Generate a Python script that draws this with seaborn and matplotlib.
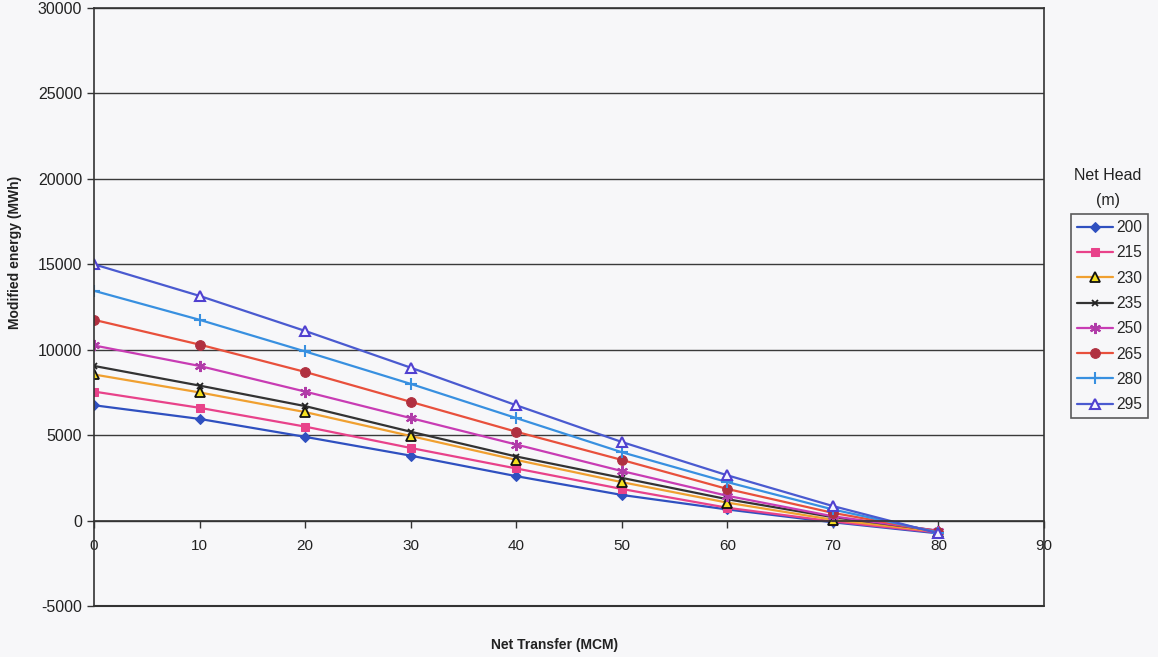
import matplotlib
matplotlib.use("Agg")
import matplotlib.pyplot as plt
import seaborn as sns
import pandas as pd

net_transfer = [0, 10, 20, 30, 40, 50, 60, 70, 80]
net_heads = ["200", "215", "230", "235", "250", "265", "280", "295"]
e200 = [6750, 5950, 4900, 3800, 2600, 1500, 650, -100, -750]
e215 = [7550, 6600, 5500, 4250, 3050, 1850, 750, -50, -700]
e230 = [8550, 7500, 6350, 4950, 3550, 2250, 1050, 50, -650]
e235 = [9050, 7900, 6700, 5200, 3750, 2500, 1250, 200, -600]
e250 = [10250, 9050, 7550, 6000, 4450, 2900, 1450, 250, -600]
e265 = [11750, 10300, 8700, 6950, 5200, 3550, 1850, 450, -650]
e280 = [13450, 11750, 9900, 8000, 6000, 4000, 2250, 650, -700]
e295 = [15000, 13150, 11100, 8950, 6750, 4600, 2650, 850, -750]
series = [e200, e215, e230, e235, e250, e265, e280, e295]

styles = {
    "200": dict(color="#2f50c0", marker="D", markerfacecolor="#2f50c0", markeredgecolor="#2f50c0", markersize=5),
    "215": dict(color="#e8428a", marker="s", markerfacecolor="#e8428a", markeredgecolor="#e8428a", markersize=6),
    "230": dict(color="#f0a030", marker="^", markerfacecolor="#f5e020", markeredgecolor="#111111", markersize=6.5, markeredgewidth=1.3),
    "235": dict(color="#333333", marker="x", markerfacecolor="#333333", markeredgecolor="#222222", markersize=5, markeredgewidth=1.3),
    "250": dict(color="#c83cb4", marker=(6, 2, 0), markerfacecolor="#b03ca8", markeredgecolor="#b03ca8", markersize=8, markeredgewidth=1.5),
    "265": dict(color="#e8503c", marker="o", markerfacecolor="#b03040", markeredgecolor="#b03040", markersize=7),
    "280": dict(color="#3890e0", marker="+", markerfacecolor="#3890e0", markeredgecolor="#3890e0", markersize=9, markeredgewidth=1.5),
    "295": dict(color="#4a5ad0", marker="^", markerfacecolor="#f4f4ff", markeredgecolor="#5040d0", markersize=7.5, markeredgewidth=1.5),
}

sns.set_theme(style="white")
plt.rcParams['font.family'] = ['Liberation Sans', 'DejaVu Sans']
plt.rcParams['axes.unicode_minus'] = False
bg = "#f7f7f9"
fig = plt.figure(figsize=(11.58, 6.57), dpi=100, facecolor=bg)
ax = fig.add_axes([94/1158, 1-606/657, (1044-94)/1158, (606-8)/657])
ax.set_facecolor(bg)

for head, vals in zip(net_heads, series):
    df = pd.DataFrame({"x": net_transfer, "y": vals})
    sns.lineplot(data=df, x="x", y="y", ax=ax, label=head, linewidth=1.6, **styles[head])

ax.set_xlim(0, 90)
ax.set_ylim(-5000, 30000)
ax.set_yticks(range(-5000, 30001, 5000))
ax.set_xticks(range(0, 91, 10))
ax.yaxis.grid(True, color="#3a3a3a", linewidth=1.0)
ax.xaxis.grid(False)
ax.set_axisbelow(True)

for s in ["left", "right", "top"]:
    ax.spines[s].set_visible(True)
    ax.spines[s].set_color("#333333")
    ax.spines[s].set_linewidth(1.2)
ax.spines["bottom"].set_position(("data", 0))
ax.spines["bottom"].set_color("#333333")
ax.spines["bottom"].set_linewidth(1.2)
ax.axhline(-5000, color="#333333", linewidth=1.5, clip_on=False)

ax.tick_params(axis="y", direction="out", length=5, width=1, color="#333333", labelsize=11.5, labelcolor="#222222", left=True)
ax.tick_params(axis="x", direction="out", length=5, width=1, color="#333333", labelsize=11, labelcolor="#222222", bottom=True, pad=8)

ax.set_xlabel("")
ax.set_ylabel("")
fig.text(555/1158, 1-645/657, "Net Transfer (MCM)", ha="center", va="center", fontsize=10, fontweight="bold", color="#222222")
fig.text(15/1158, 1-252/657, "Modified energy (MWh)", ha="center", va="center", rotation=90, fontsize=10, fontweight="bold", color="#222222")

if ax.legend_:
    ax.legend_.remove()
handles, labels = ax.get_legend_handles_labels()
leg = fig.legend(handles, labels, loc="upper left", bbox_to_anchor=(1071/1158, 1-214/657),
                 bbox_transform=fig.transFigure, frameon=True, fancybox=False, fontsize=11.2,
                 handlelength=2.3, handletextpad=0.2, labelspacing=0.66, borderpad=0.4,
                 borderaxespad=0)
leg.get_frame().set_edgecolor("#333333")
leg.get_frame().set_linewidth(1.2)
leg.get_frame().set_facecolor(bg)
fig.text(1108/1158, 1-176/657, "Net Head", ha="center", va="center", fontsize=11.5, color="#222222")
fig.text(1108/1158, 1-200/657, "(m)", ha="center", va="center", fontsize=11.5, color="#222222")

fig.savefig("out.png", dpi=100, facecolor=bg)
